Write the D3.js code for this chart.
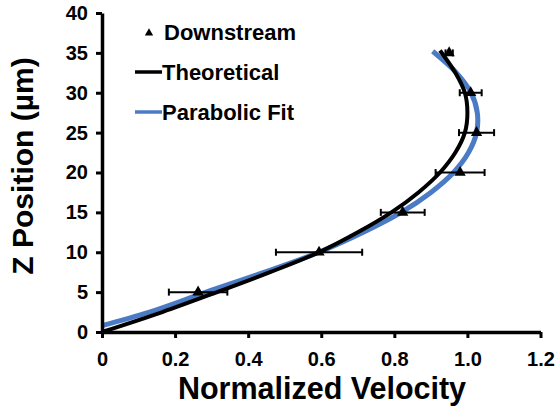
<!DOCTYPE html>
<html>
<head>
<meta charset="utf-8">
<script src="https://cdn.jsdelivr.net/npm/d3@7"></script>
<style>
  html, body { margin: 0; padding: 0; background: #fff; }
  svg { display: block; }
  text { font-family: "Liberation Sans", Arial, sans-serif; font-weight: bold; fill: #000; }
</style>
</head>
<body>
<svg id="chart" width="559" height="406"></svg>
<script>
// Measured downstream velocity profile (triangles with horizontal error bars)
const downZ   = [5, 10, 15, 20, 25, 30, 35];
const downV   = [0.263, 0.594, 0.823, 0.98, 1.025, 1.009, 0.95];
const downErr = [0.08, 0.118, 0.06, 0.067, 0.048, 0.03, 0.01];

// Theoretical profile
const theoZ = [0, 2.5, 5, 7.5, 10, 12.5, 15, 17.5, 20, 22.5, 25, 27.5, 30, 32.5, 35.3];
const theoV = [0, 0.165, 0.315, 0.46, 0.594, 0.7, 0.792, 0.866, 0.925, 0.967, 0.993, 1.0, 0.993, 0.967, 0.925];

// Parabolic fit to the measurements
const fitZ = [0.8, 2.5, 5, 7.5, 10, 12.5, 15, 17.5, 20, 22.5, 25, 27.5, 30, 32.5, 35.2];
const fitV = [0, 0.13, 0.285, 0.445, 0.594, 0.715, 0.819, 0.9, 0.962, 1.003, 1.025, 1.027, 1.01, 0.97, 0.905];

// Axis ticks
const xTicks = [0, 0.2, 0.4, 0.6, 0.8, 1.0, 1.2];
const xTickLabels = ["0", "0.2", "0.4", "0.6", "0.8", "1.0", "1.2"];
const yTicks = [0, 5, 10, 15, 20, 25, 30, 35, 40];

const svg = d3.select("#chart");

const x = d3.scaleLinear().domain([0, 1.2]).range([102, 540.5]);
const y = d3.scaleLinear().domain([0, 40]).range([332, 13]);

const blue = "#4a7bc4";

// Curves
const line = d3.line()
  .x(d => x(d[1]))
  .y(d => y(d[0]))
  .curve(d3.curveCatmullRom);

svg.append("path")
  .datum(fitZ.map((z, i) => [z, fitV[i]]))
  .attr("d", line)
  .attr("fill", "none")
  .attr("stroke", blue)
  .attr("stroke-width", 5);

svg.append("path")
  .datum(theoZ.map((z, i) => [z, theoV[i]]))
  .attr("d", line)
  .attr("fill", "none")
  .attr("stroke", "#000")
  .attr("stroke-width", 4);

// Axes
const xAxis = d3.axisBottom(x)
  .tickValues(xTicks)
  .tickFormat((d, i) => xTickLabels[i])
  .tickSize(6)
  .tickPadding(14)
  .tickSizeOuter(0);

const yAxis = d3.axisLeft(y)
  .tickValues(yTicks)
  .tickSize(6)
  .tickPadding(8)
  .tickSizeOuter(0);

const gx = svg.append("g").attr("transform", `translate(0,${y(0)})`).call(xAxis);
const gy = svg.append("g").attr("transform", `translate(${x(0)},0)`).call(yAxis);

[gx, gy].forEach(g => {
  g.select(".domain").attr("stroke", "#000").attr("stroke-width", 3.5);
  g.selectAll(".tick line").attr("stroke", "#000").attr("stroke-width", 3);
  g.selectAll(".tick text")
    .style("font-family", "'Liberation Sans', Arial, sans-serif")
    .style("font-weight", "bold")
    .style("font-size", "20px")
    .attr("fill", "#000");
});

// Error bars
const eb = svg.append("g");
downZ.forEach((z, i) => {
  const x0 = x(downV[i] - downErr[i]), x1 = x(downV[i] + downErr[i]), yy = y(z);
  eb.append("line").attr("x1", x0).attr("x2", x1).attr("y1", yy).attr("y2", yy)
    .attr("stroke", "#000").attr("stroke-width", 2);
  [x0, x1].forEach(xc => {
    eb.append("line").attr("x1", xc).attr("x2", xc).attr("y1", yy - 3.5).attr("y2", yy + 3.5)
      .attr("stroke", "#000").attr("stroke-width", 2);
  });
});

// Triangle markers
const tri = d3.symbol().type(d3.symbolTriangle).size(55);
svg.append("g").selectAll("path")
  .data(downZ.map((z, i) => [z, downV[i]]))
  .join("path")
  .attr("d", tri)
  .attr("transform", d => `translate(${x(d[1])},${y(d[0])})`)
  .attr("fill", "#000");

// Legend
const lg = svg.append("g");
lg.append("path").attr("d", d3.symbol().type(d3.symbolTriangle).size(30))
  .attr("transform", "translate(149,33)").attr("fill", "#000");
lg.append("text").attr("x", 164).attr("y", 40).style("font-size", "22px").text("Downstream");
lg.append("line").attr("x1", 135).attr("x2", 162).attr("y1", 72).attr("y2", 72)
  .attr("stroke", "#000").attr("stroke-width", 3.5);
lg.append("text").attr("x", 162).attr("y", 80).style("font-size", "22px").text("Theoretical");
lg.append("line").attr("x1", 135).attr("x2", 162).attr("y1", 112).attr("y2", 112)
  .attr("stroke", blue).attr("stroke-width", 3.5);
lg.append("text").attr("x", 162).attr("y", 120).style("font-size", "22px").text("Parabolic Fit");

// Axis titles
svg.append("text")
  .attr("x", 322).attr("y", 399)
  .attr("text-anchor", "middle")
  .style("font-size", "30.5px")
  .text("Normalized Velocity");

svg.append("text")
  .attr("transform", "translate(33,166) rotate(-90)")
  .attr("text-anchor", "middle")
  .style("font-size", "30px")
  .text("Z Position (µm)");
</script>
</body>
</html>
